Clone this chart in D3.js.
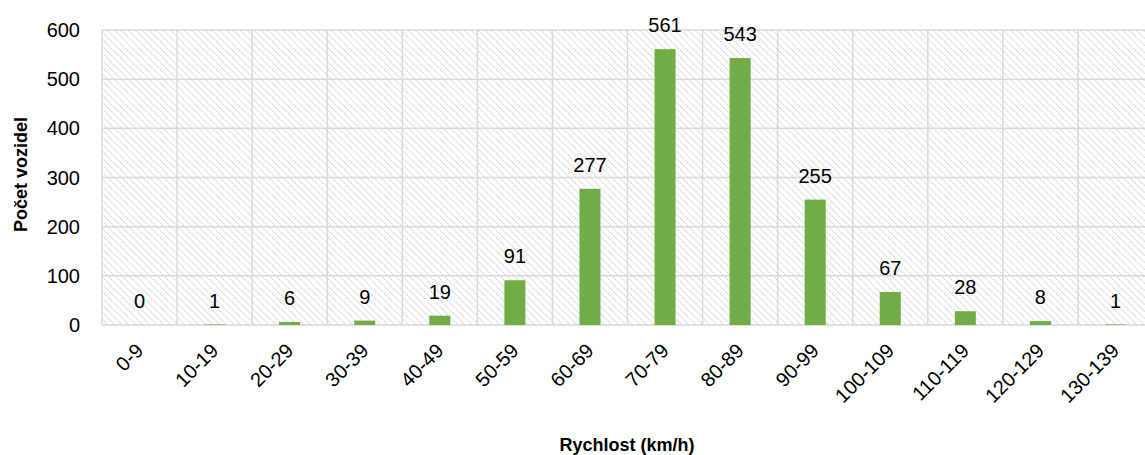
<!DOCTYPE html>
<html><head><meta charset="utf-8">
<script src="https://cdn.jsdelivr.net/npm/d3@7"></script>
<style>body{margin:0;background:#fff;overflow:hidden;} text{font-family:"Liberation Sans",Arial,sans-serif;}</style>
</head><body>
<svg id="chart" width="1145" height="455"></svg>
<script>
const categories = ["0-9","10-19","20-29","30-39","40-49","50-59","60-69","70-79","80-89","90-99","100-109","110-119","120-129","130-139"];
const values = [0,1,6,9,19,91,277,561,543,255,67,28,8,1];
const yTicks = [0,100,200,300,400,500,600];
const xTitle = "Rychlost (km/h)";
const yTitle = "Počet vozidel";

const svg = d3.select("#chart");
const m = {left:102, right:1153, top:30, bottom:325};
const x = d3.scaleBand().domain(categories).range([m.left, m.right]).paddingInner(0.72).paddingOuter(0.36);
const xb = d3.scaleBand().domain(categories).range([m.left, m.right]);
const y = d3.scaleLinear().domain([0,600]).range([m.bottom, m.top]);

const defs = svg.append("defs");
const pat = defs.append("pattern").attr("id","hatch").attr("patternUnits","userSpaceOnUse")
  .attr("width",7).attr("height",7);
pat.append("path").attr("d","M-1,-1 L8,8 M-8,-1 L1,8 M6,-1 L15,8").attr("stroke","#d6d6d6").attr("stroke-width",1.3).attr("stroke-dasharray","1.5,1");

svg.append("rect").attr("x",m.left).attr("y",m.top).attr("width",m.right-m.left).attr("height",m.bottom-m.top).attr("fill","url(#hatch)");

// horizontal gridlines
svg.append("g").selectAll("line").data(yTicks).join("line")
  .attr("x1",m.left).attr("x2",m.right).attr("y1",d=>y(d)).attr("y2",d=>y(d))
  .attr("stroke","#d9d9d9").attr("stroke-width",1.5);
// vertical gridlines
const bounds = categories.map(c=>xb(c)).concat([m.right]);
svg.append("g").selectAll("line").data(bounds).join("line")
  .attr("x1",d=>d).attr("x2",d=>d).attr("y1",m.top).attr("y2",m.bottom)
  .attr("stroke","#d9d9d9").attr("stroke-width",1.5);

// bars
svg.append("g").selectAll("rect").data(values).join("rect")
  .attr("x",(d,i)=>x(categories[i])).attr("width",x.bandwidth())
  .attr("y",d=>y(d)).attr("height",d=>y(0)-y(d)).attr("fill","#70ad47");

// data labels
svg.append("g").selectAll("text").data(values).join("text")
  .attr("x",(d,i)=>xb(categories[i])+xb.bandwidth()/2).attr("y",d=>y(d)-17)
  .attr("text-anchor","middle").attr("font-size",20).attr("fill","#000").text(d=>d);

// y axis labels
svg.append("g").selectAll("text").data(yTicks).join("text")
  .attr("x",80).attr("y",d=>y(d)).attr("dy","0.35em").attr("text-anchor","end")
  .attr("font-size",20).attr("fill","#000").text(d=>d);

// x axis labels
svg.append("g").selectAll("text").data(categories).join("text")
  .attr("transform",c=>`translate(${xb(c)+xb.bandwidth()/2+5},${m.bottom+27}) rotate(-45)`)
  .attr("text-anchor","end").attr("font-size",20).attr("fill","#000").text(c=>c);

// titles
svg.append("text").attr("x",627).attr("y",451).attr("text-anchor","middle")
  .attr("font-size",18).attr("font-weight","bold").text(xTitle);
svg.append("text").attr("transform",`translate(27,${(m.top+m.bottom)/2 - 3}) rotate(-90)`).attr("text-anchor","middle")
  .attr("font-size",18).attr("font-weight","bold").text(yTitle);
</script>
</body></html>
